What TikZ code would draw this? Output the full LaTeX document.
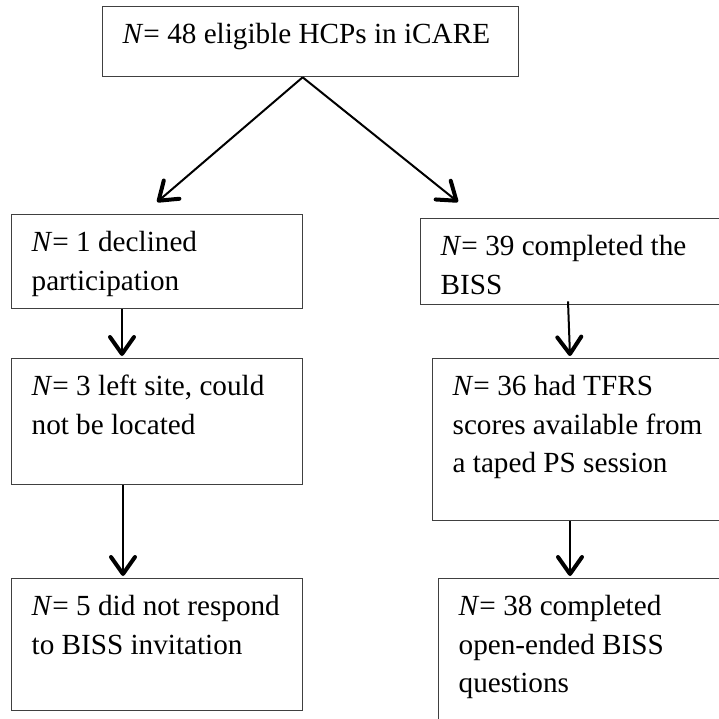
\documentclass[tikz,border=0pt]{standalone}
\usepackage{fontspec}
\setmainfont{Liberation Serif}
\usepackage{tikz}
\usetikzlibrary{arrows.meta}

\begin{document}
\begin{tikzpicture}[x=1pt,y=-1pt,
		stage/.style={draw=black!75,line width=1.3pt,anchor=north west,align=flush left,
			inner xsep=10pt,inner ysep=17pt,text height=20pt,
			font=\fontsize{29.2}{38.5}\selectfont,
			execute at begin node={\leftskip=10pt}},
		flow/.style={line width=2pt,-{Straight Barb[length=17pt,width=24pt,line width=4pt,round]}}]
	\clip (0,0) rectangle (719,719);
	\node[stage,text width=396pt,text depth=16pt] (elig) at (102,6) {\textit{N}= 48 eligible HCPs in iCARE};
	\node[stage,text width=271pt,text depth=40pt] (decl) at (11,214) {\textit{N}= 1 declined\\participation};
	\node[stage,text width=300pt,text depth=32pt] (biss) at (420,218) {\textit{N}= 39 completed the\\BISS};
	\node[stage,text width=271pt,text depth=72pt] (left) at (11,358) {\textit{N}= 3 left site, could\\not be located};
	\node[stage,text width=300pt,text depth=108pt] (tfrs) at (432,358) {\textit{N}= 36 had TFRS\\scores available from\\a taped PS session};
	\node[stage,text width=271pt,text depth=78pt] (resp) at (11,578) {\textit{N}= 5 did not respond\\to BISS invitation};
	\node[stage,text width=300pt,text depth=120pt] (open) at (438,578) {\textit{N}= 38 completed\\open-ended BISS\\questions};
	\draw[flow] ([xshift=-8pt]elig.south) -- ([yshift=12pt]decl.north);
	\draw[flow] ([xshift=-8pt]elig.south) -- ([xshift=38pt,yshift=16pt]biss.north west);
	\draw[flow] ([xshift=111pt]decl.south west) -- ([xshift=111pt,yshift=2pt]left.north west);
	\draw[flow] ([xshift=112pt]left.south west) -- ([xshift=112pt,yshift=2pt]resp.north west);
	\draw[flow] ([xshift=148pt,yshift=4pt]biss.south west) -- ([xshift=138pt,yshift=2pt]tfrs.north west);
	\draw[flow] ([xshift=138pt]tfrs.south west) -- ([xshift=132pt,yshift=2pt]open.north west);
\end{tikzpicture}
\end{document}
